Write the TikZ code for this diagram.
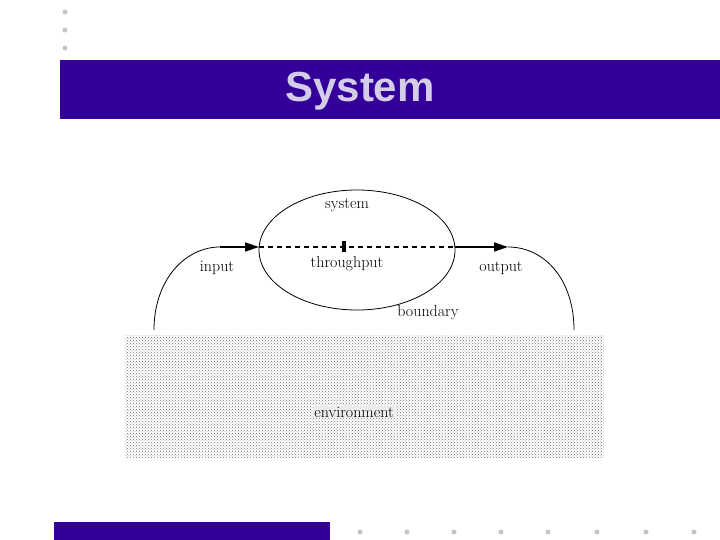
\documentclass[tikz,border=0pt]{standalone}
\usepackage{fontspec}
\setsansfont{Liberation Sans}
\usetikzlibrary{patterns,arrows.meta}
\definecolor{band}{HTML}{330099}
\definecolor{ttl}{HTML}{D4CCE8}
\begin{document}
\begin{tikzpicture}[x=1pt,y=-1pt,
  lbl/.style={font=\fontsize{16}{18}\selectfont},
  dotm/.style={circle,fill=gray!45,inner sep=0pt,minimum size=5pt},
  arr/.style={-{Triangle[length=14pt,width=9pt]},line width=1.6pt}]
\useasboundingbox (0,0) rectangle (720,540);
\foreach \y/\n in {12/a,30/b,48/c} \node[dotm] (d\n) at (65,\y) {};
\fill[band] (60,60) rectangle (720,119);
\node[font=\sffamily\bfseries\fontsize{42}{46}\selectfont,text=ttl] (title) at (360,91) {System};
% environment
\fill[pattern=crosshatch dots,pattern color=gray!90!black] (125,335) rectangle (604,457);
\node[lbl,fill=white!85!gray,inner sep=1pt] (env) at (354,412) {environment};
% system
\draw[line width=0.8pt] (357,250) ellipse [x radius=98,y radius=60];
\coordinate (L) at (259,247);
\coordinate (R) at (455,247);
\draw[dash pattern=on 5pt off 4pt,line width=1.4pt] (L) -- (R);
\draw[line width=4pt] (344,241) -- (344,252);
\coordinate (ib) at (154,330);
\coordinate (ia) at (220,247);
\draw[line width=0.8pt] (ib) .. controls (154,280) and (185,247) .. (ia);
\draw[arr] (ia) -- (L);
\coordinate (oa) at (508,247);
\coordinate (ob) at (574,330);
\draw[arr] (R) -- (oa);
\draw[line width=0.8pt] (oa) .. controls (545,247) and (574,280) .. (ob);
\node[lbl] (sys) at (347,205) {system};
\node[lbl] (inp) at (217,268) {input};
\node[lbl] (thr) at (347,264) {throughput};
\node[lbl] (out) at (501,268) {output};
\node[lbl] (bnd) at (428,313) {boundary};
% bottom
\fill[band] (54,522) rectangle (330,540);
\foreach \x in {360,407,454,501,548,597,646,694} \node[dotm] at (\x,532) {};
\end{tikzpicture}
\end{document}
